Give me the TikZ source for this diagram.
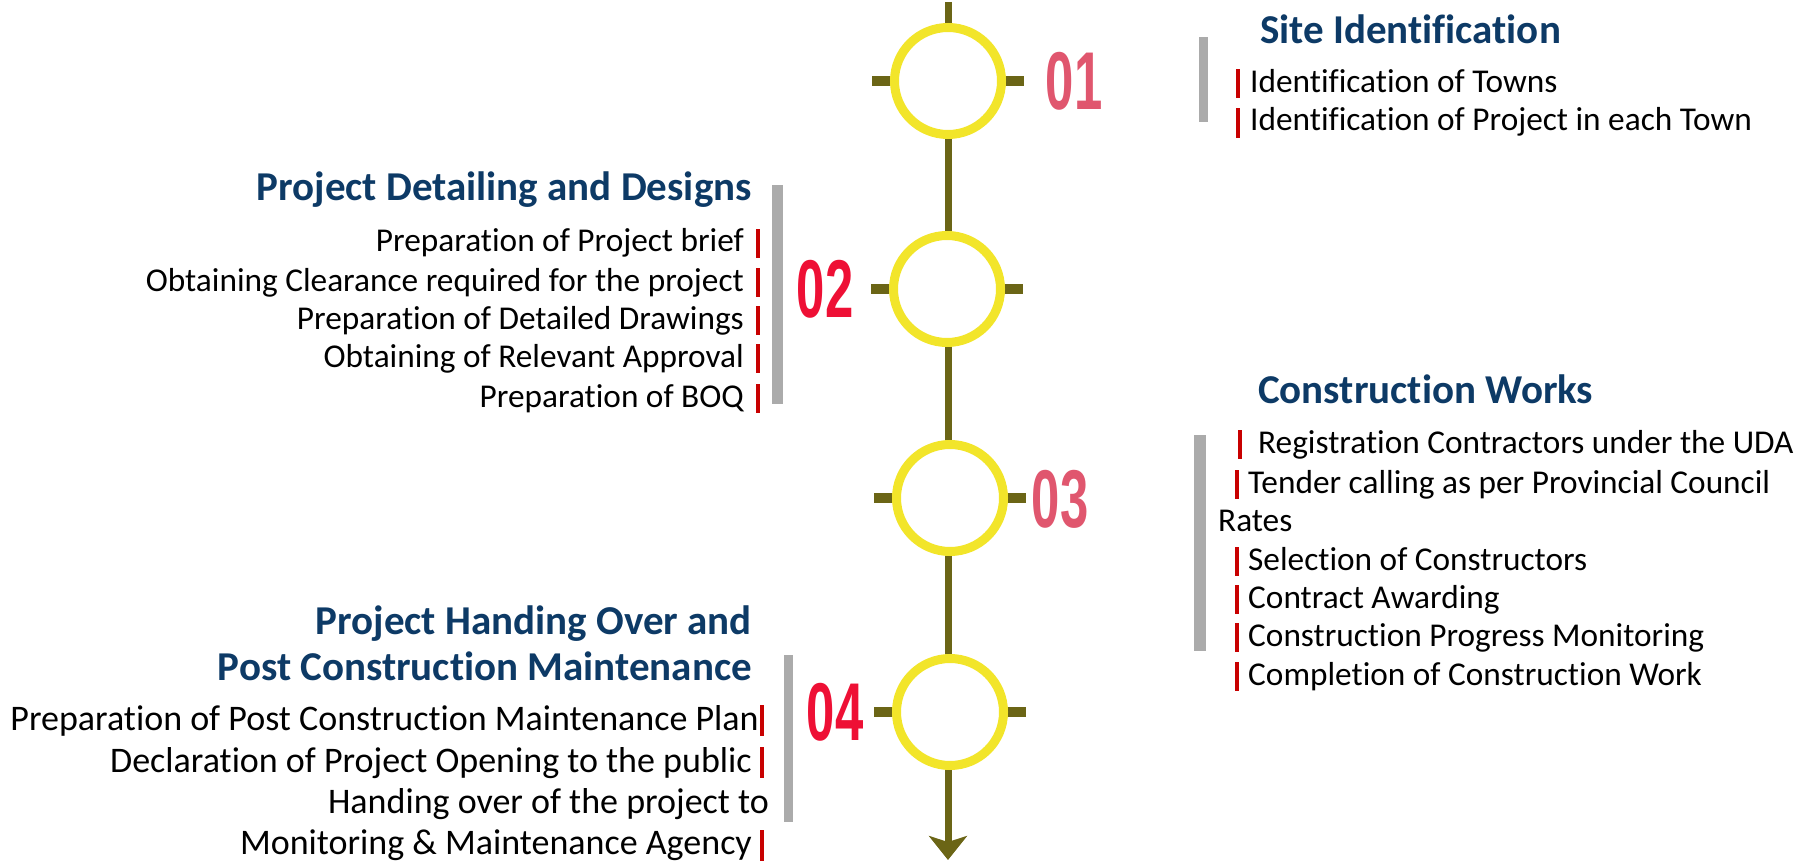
\documentclass[tikz,border=0pt]{standalone}
\usepackage{fontspec}
\usepackage{graphicx}
\setmainfont{Carlito}[Ligatures={NoCommon}]
\newfontfamily\numfont{Liberation Sans}
\usetikzlibrary{arrows.meta}
\definecolor{ringyellow}{HTML}{F2E52A}
\definecolor{olive}{HTML}{6B6516}
\definecolor{headblue}{HTML}{0D3A66}
\definecolor{barred}{HTML}{C80000}
\definecolor{bargray}{HTML}{ABABAB}
\definecolor{numpink}{HTML}{E0566E}
\definecolor{numred}{HTML}{EE1035}
\tikzset{
  ring/.style={circle, draw=ringyellow, line width=9pt, fill=white, minimum size=107pt, inner sep=0pt},
  tick/.style={olive, line width=10pt},
  spine/.style={olive, line width=7pt},
  head/.style={inner sep=0pt, text=headblue, font=\fontsize{41}{48}\bfseries\selectfont},
  item/.style={inner sep=0pt, text=black, font=\fontsize{33.3}{38}\selectfont},
  itembig/.style={inner sep=0pt, text=black, font=\fontsize{36}{42}\selectfont},
  numlab/.style={inner sep=0pt, font=\fontsize{82}{84}\numfont\bfseries},
  graybar/.style={fill=bargray},
  redbar/.style={fill=barred}
}
\newcommand{\numtxt}[1]{\scalebox{0.62}[1]{#1}}
\begin{document}
\begin{tikzpicture}[x=1pt,y=-1pt]
\useasboundingbox (0,0) rectangle (1808,861);
% spine
\coordinate (top) at (948,2);
\coordinate (tip) at (948,860);
\draw[spine, -{Stealth[length=24pt,width=38pt,inset=6pt]}] (top) -- (tip);
% circles with ticks
\foreach \n/\cx/\cy in {c1/948/81, c2/947/289, c3/950/498, c4/950/712}{
  \draw[tick] (\cx-76,\cy) -- (\cx-50,\cy);
  \draw[tick] (\cx+50,\cy) -- (\cx+76,\cy);
  \node[ring] (\n) at (\cx,\cy) {};
}
% numbers
\node[numlab, text=numpink] (n1) at (1074,81) {\numtxt{01}};
\node[numlab, text=numred]  (n2) at (825,289) {\numtxt{02}};
\node[numlab, text=numpink] (n3) at (1060,499) {\numtxt{03}};
\node[numlab, text=numred]  (n4) at (835,712) {\numtxt{04}};

% ---- block 1 (right, top)
\node[head, anchor=base west] (h1) at (1260,44) {Site Identification};
\fill[graybar] (1199,37) rectangle (1208,122);
\fill[redbar] (1236,69) rectangle (1240,98);
\node[item, anchor=base west] (i11) at (1250,93) {Identification of Towns};
\fill[redbar] (1236,108) rectangle (1240,138);
\node[item, anchor=base west] (i12) at (1250,131) {Identification of Project in each Town};

% ---- block 2 (left)
\node[head, anchor=base east] (h2) at (752,201) {Project Detailing and Designs};
\fill[graybar] (772,185) rectangle (783,404);
\foreach \t/\y in {{Preparation of Project brief}/252,
                   {Obtaining Clearance required for the project}/291,
                   {Preparation of Detailed Drawings}/329,
                   {Obtaining of Relevant Approval}/367,
                   {Preparation of BOQ}/407}{
  \node[item, anchor=base east] at (744,\y) {\t};
  \fill[redbar] (756,\y-23) rectangle (760,\y+6);
}

% ---- block 3 (right)
\node[head, anchor=base west] (h3) at (1258,403) {Construction Works};
\fill[graybar] (1194,435) rectangle (1206,651);
\fill[redbar] (1238,430) rectangle (1242,459);
\node[item, anchor=base west] (i31) at (1258,453) {Registration Contractors under the UDA};
\fill[redbar] (1235,470) rectangle (1239,499);
\node[item, anchor=base west] (i32) at (1248,493) {Tender calling as per Provincial Council};
\node[item, anchor=base west] (i32b) at (1218,531) {Rates};
\foreach \t/\y in {{Selection of Constructors}/570,
                   {Contract Awarding}/608,
                   {Construction Progress Monitoring}/646,
                   {Completion of Construction Work}/685}{
  \fill[redbar] (1235,\y-23) rectangle (1239,\y+6);
  \node[item, anchor=base west] at (1248,\y) {\t};
}

% ---- block 4 (left, bottom)
\node[head, anchor=base east] (h4a) at (752,634) {Project Handing Over and};
\node[head, anchor=base east] (h4b) at (752,680) {Post Construction Maintenance};
\fill[graybar] (784,655) rectangle (793,822);
\node[itembig, anchor=base east] (i41) at (759,730) {Preparation of Post Construction Maintenance Plan};
\fill[redbar] (760,705) rectangle (764,736);
\node[itembig, anchor=base east] (i42) at (752,772) {Declaration of Project Opening to the public};
\fill[redbar] (760,747) rectangle (764,778);
\node[itembig, anchor=base east] (i43) at (769,813) {Handing over of the project to};
\node[itembig, anchor=base east] (i44) at (752,854) {Monitoring \& Maintenance Agency};
\fill[redbar] (760,830) rectangle (764,861);
\end{tikzpicture}
\end{document}
